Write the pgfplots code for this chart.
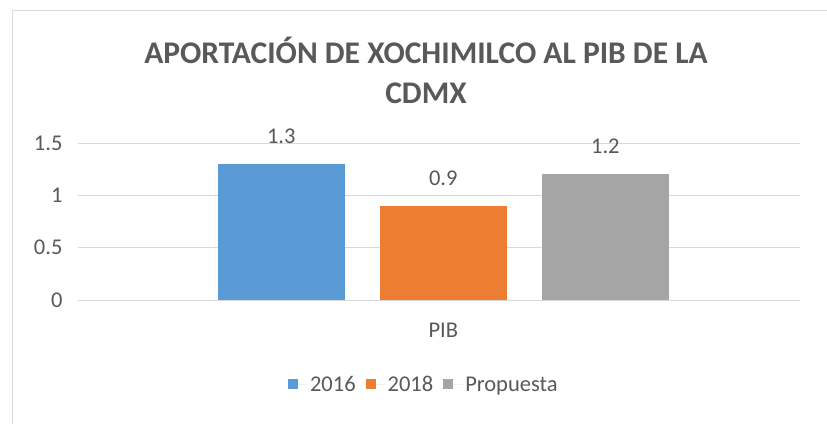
\documentclass[border=0pt]{standalone}
\usepackage{pgfplots}
\pgfplotsset{compat=1.18}
\usepackage{fontspec}
\setmainfont{Carlito}
\definecolor{txt}{HTML}{595959}
\definecolor{gridc}{HTML}{D9D9D9}
\definecolor{c2016}{HTML}{5B9BD5}
\definecolor{c2018}{HTML}{ED7D31}
\definecolor{cprop}{HTML}{A5A5A5}
\begin{document}
\begin{tikzpicture}
\path[use as bounding box] (0,0) rectangle (827pt,-423pt);
\fill[white] (0,0) rectangle (827pt,-423pt);
\draw[gridc, line width=1pt] (12pt,-440pt) -- (12pt,-10pt) -- (840pt,-10pt);
\node[txt, font=\fontsize{31.5}{40}\selectfont\bfseries, align=center] at (426pt,-70pt)
  {APORTACIÓN DE XOCHIMILCO AL PIB DE LA\\CDMX};
\begin{axis}[
    at={(78pt,-300pt)}, anchor=south west,
    scale only axis, width=722pt, height=157pt,
    ybar=35pt, bar width=127pt,
    xmin=-1.012, xmax=0.988, ymin=0, ymax=1.5,
    ytick={0,0.5,1,1.5},
    xtick={0}, xticklabels={PIB},
    major tick length=0pt,
    axis x line*=bottom, axis y line*=left,
    x axis line style={gridc, line width=1pt, -},
    y axis line style={draw=none},
    ymajorgrids, grid style={gridc, line width=1pt},
    /pgf/number format/assume math mode=true,
    tick label style={txt, font=\fontsize{22.5}{26}\selectfont},
    yticklabel style={xshift=-12pt},
    xticklabel style={yshift=-20pt},
    nodes near coords,
    nodes near coords style={txt, font=\fontsize{22.5}{26}\selectfont, yshift=17pt},
    legend style={at={(0.479,-0.541)}, anchor=center, draw=none, fill=none,
        legend columns=3, font=\fontsize{22.5}{26}\selectfont, text=txt,
        /tikz/every even column/.append style={column sep=8pt}},
    legend image code/.code={\fill[#1] (0pt,-4pt) rectangle (10pt,6pt); \path (0pt,0pt) -- (20pt,0pt);},
]
\addplot[fill=c2016, draw=none] coordinates {(0,1.3)};
\addlegendentry{2016}
\addplot[fill=c2018, draw=none] coordinates {(0,0.9)};
\addlegendentry{2018}
\addplot[fill=cprop, draw=none] coordinates {(0,1.2)};
\addlegendentry{Propuesta}
\end{axis}
\end{tikzpicture}
\end{document}
